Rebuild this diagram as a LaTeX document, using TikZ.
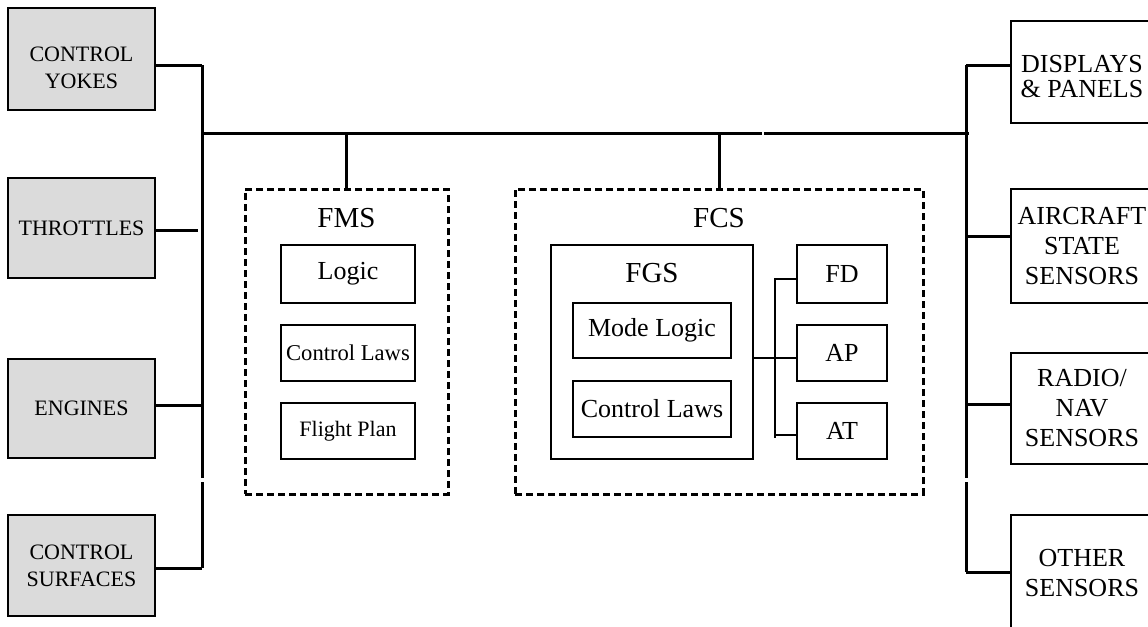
\documentclass[tikz,border=0pt]{standalone}
\usepackage{fontspec}
\setmainfont{Liberation Serif}
\begin{document}
\begin{tikzpicture}[x=0.5pt,y=-0.5pt,
    unit/.style={draw,line width=1pt,fill=black!14,inner sep=0pt,outer sep=0pt,align=center,font=\fontsize{11}{13.5}\selectfont},
    periph/.style={draw,line width=1pt,inner sep=0pt,outer sep=0pt,align=center,font=\fontsize{13}{15}\selectfont},
    group/.style={draw,line width=1.5pt,dash pattern=on 3.5pt off 2pt,inner sep=0pt,outer sep=0pt},
    block/.style={draw,line width=0.9pt,inner sep=0pt,outer sep=0pt,align=center,font=\fontsize{13}{15}\selectfont},
    title/.style={inner sep=0pt,font=\fontsize{14.5}{16}\selectfont},
    bus/.style={line width=1.5pt},
    wire/.style={line width=0.6pt}]
  \clip (0,0) rectangle (1148,627);

  % 左側の装置
  \node[unit,minimum width=73.5pt,minimum height=51pt] (yokes) at (81.5,59) {};
  \node[align=center,inner sep=0pt,font=\fontsize{11}{13.5}\selectfont] (yokestext) at (81.5,68) {CONTROL\\YOKES};
  \node[unit,minimum width=73.5pt,minimum height=50pt] (throttles) at (81.5,228) {THROTTLES};
  \node[unit,minimum width=73.5pt,minimum height=49.5pt] (engines) at (81.5,408.5) {ENGINES};
  \node[unit,minimum width=73.5pt,minimum height=50.5pt] (surfaces) at (81.5,565.5) {CONTROL\\SURFACES};

  % 右側の装置
  \node[periph,minimum width=71pt,minimum height=51pt] (displays) at (1082,72) {};
  \node[align=center,inner sep=0pt,font=\fontsize{13}{12.5}\selectfont] (displaystext) at (1082,77) {DISPLAYS\\\& PANELS};
  \node[periph,minimum width=71pt,minimum height=57pt] (aircraft) at (1082,246) {AIRCRAFT\\STATE\\SENSORS};
  \node[periph,minimum width=71pt,minimum height=55.5pt] (radio) at (1082,408.5) {RADIO/\\NAV\\SENSORS};
  \node[periph,minimum width=71pt,minimum height=58pt] (other) at (1082,573) {OTHER\\SENSORS};

  % FMS
  \node[group,minimum width=101.5pt,minimum height=152.5pt] (fms) at (346.5,341.5) {};
  \node[title] (fmstitle) at (346.5,218) {FMS};
  \node[block,minimum width=67pt,minimum height=29pt] (logic) at (348,274) {Logic};
  \node[block,minimum width=67pt,minimum height=28pt,font=\fontsize{11.3}{13}\selectfont] (fmslaws) at (348,353) {Control Laws};
  \node[block,minimum width=67pt,minimum height=28pt,font=\fontsize{11}{13}\selectfont] (plan) at (348,431) {Flight Plan};

  % FCS
  \node[group,minimum width=204pt,minimum height=152.5pt] (fcs) at (719,341.5) {};
  \node[title] (fcstitle) at (719,218) {FCS};
  \node[block,minimum width=101pt,minimum height=107pt] (fgs) at (652,352) {};
  \node[title] (fgstitle) at (652,273) {FGS};
  \node[block,minimum width=79pt,minimum height=27.5pt] (mode) at (652,330.5) {Mode Logic};
  \node[block,minimum width=79pt,minimum height=28pt] (laws) at (652,409) {Control Laws};
  \node[block,minimum width=45pt,minimum height=29pt] (fd) at (842,274) {FD};
  \node[block,minimum width=45pt,minimum height=28pt] (ap) at (842,353) {AP};
  \node[block,minimum width=45pt,minimum height=28pt] (at) at (842,431) {AT};

  % バス
  \coordinate (ltop) at (202,65);
  \coordinate (lbus) at (202,133);
  \coordinate (lgap) at (202,480);
  \coordinate (lbot) at (202,568);
  \coordinate (mgap) at (763,133);
  \coordinate (rbus) at (969,133);
  \coordinate (rtop) at (966,65);
  \coordinate (rgap) at (966,480);
  \coordinate (rbot) at (966,572);
  \draw[bus] (ltop) -- ([yshift=1pt]lgap) ([yshift=-1pt]lgap) -- (lbot);
  \draw[bus] (rtop) -- ([yshift=1pt]rgap) ([yshift=-1pt]rgap) -- (rbot);
  \draw[bus] (lbus) -- ([xshift=-0.5pt]mgap) ([xshift=0.5pt]mgap) -- (rbus);

  % 接続線
  \draw[bus] (yokes.east |- ltop) -- (ltop);
  \draw[bus] ([yshift=-1pt]throttles.east) -- ([yshift=-1pt,xshift=-2pt]throttles.east -| ltop);
  \draw[bus] ([yshift=1.5pt]engines.east) -- ([yshift=1.5pt]engines.east -| ltop);
  \draw[bus] (surfaces.east |- lbot) -- (lbot);
  \draw[bus] (displays.west |- rtop) -- (rtop);
  \draw[bus] ([yshift=5pt]aircraft.west) -- ([yshift=5pt]aircraft.west -| rtop);
  \draw[bus] ([yshift=2pt]radio.west) -- ([yshift=2pt]radio.west -| rtop);
  \draw[bus] (other.west |- rbot) -- (rbot);
  \draw[bus] (fms.north) -- (fms.north |- lbus);
  \draw[bus] (fcs.north) -- (fcs.north |- lbus);

  % FCS内部
  \coordinate (tap) at (775,358);
  \draw[wire] (fgs.east |- tap) -- (ap.west |- tap);
  \draw[wire] ([yshift=-2.5pt]fd.west) -| ([yshift=-3.5pt]at.west -| tap);
  \draw[wire] ([yshift=-2pt]at.west -| tap) -- ([yshift=-2pt]at.west);
\end{tikzpicture}
\end{document}
